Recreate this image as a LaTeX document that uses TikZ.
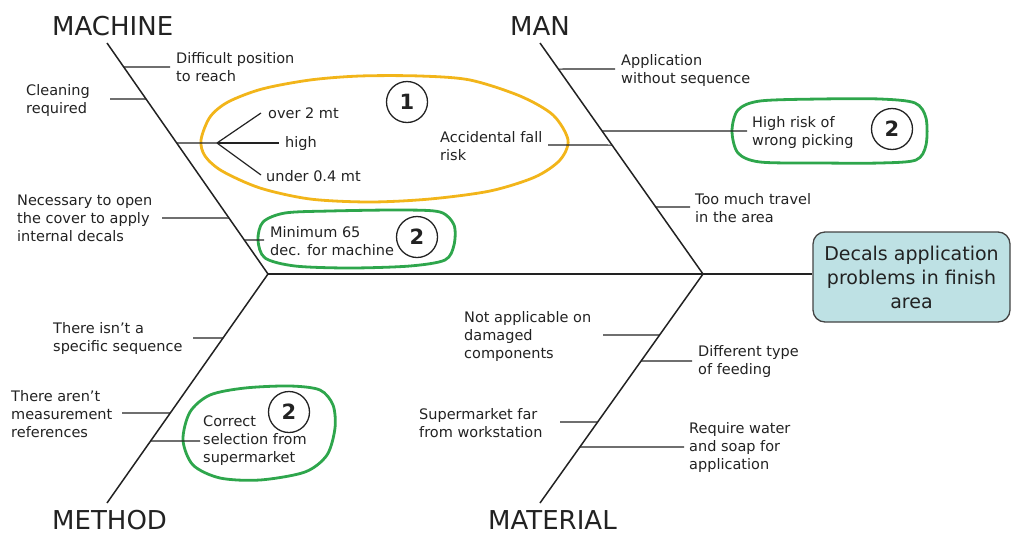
\documentclass[tikz,border=0pt]{standalone}
\usepackage{fontspec}
\setmainfont{DejaVu Sans}
\definecolor{orng}{HTML}{F2B51A}
\definecolor{grn}{HTML}{2EA64C}
\definecolor{boxfill}{HTML}{BEE1E4}
\definecolor{ink}{HTML}{222222}
\begin{document}
\begin{tikzpicture}[x=1pt,y=-1pt,
  bone/.style={draw=ink,line width=1.5pt},
  rib/.style={draw=ink,line width=1.2pt},
  lbl/.style={font=\fontsize{14.5}{18}\selectfont,align=left,inner sep=0pt,anchor=west,text=ink},
  head/.style={font=\fontsize{26}{30}\selectfont,inner sep=0pt,anchor=west,text=ink},
  num/.style={circle,draw=ink,line width=1.3pt,minimum size=41pt,inner sep=0pt,font=\fontsize{21}{21}\selectfont\bfseries,text=ink},
  oloop/.style={draw=orng,line width=2.8pt},
  gloop/.style={draw=grn,line width=2.8pt},
  effect/.style={draw=ink!85,fill=boxfill,line width=1.3pt,rounded corners=12pt,minimum width=197pt,minimum height=90pt,align=center,font=\fontsize{19}{24}\selectfont,text=ink,inner sep=0pt}]
\useasboundingbox (0,0) rectangle (1011,536);

% highlight loops
\draw[oloop] plot[smooth cycle] coordinates {(201,140) (210,117) (228,102) (262,89) (310,80) (360,76) (420,76) (470,80) (520,96) (553,115) (568,140) (560,160) (535,177) (490,191) (430,199) (370,202) (310,199) (260,188) (222,171) (205,156)};
\draw[gloop] plot[smooth cycle] coordinates {(258,240) (263,222) (285,213) (330,211) (400,210) (440,212) (454,225) (454,245) (445,260) (410,266) (350,268) (295,266) (265,258)};
\draw[gloop] plot[smooth cycle] coordinates {(732,131) (738,110) (760,101) (820,99) (880,99) (915,103) (926,118) (926,145) (916,160) (880,163) (820,163) (760,162) (738,153)};
\draw[gloop] plot[smooth cycle] coordinates {(183,440) (190,412) (210,395) (245,388) (290,386) (320,390) (333,405) (335,428) (327,455) (305,472) (260,480) (220,478) (193,465)};

% effect box
\node[effect] (eff) at (911.5,277) {Decals application\\problems in finish\\area};

% bone ends
\coordinate (mcT) at (107,43);
\coordinate (jL) at (268,274);
\coordinate (mtB) at (107,503);
\coordinate (mnT) at (540,43);
\coordinate (jR) at (703,274);
\coordinate (maB) at (540,503);

% spine and bones
\draw[bone] (jL) -- (jL -| eff.west);
\draw[bone] (mcT) -- (jL);
\draw[bone] (jL) -- (mtB);
\draw[bone] (mnT) -- (jR);
\draw[bone] (jR) -- (maB);

% points on bones
\path (mcT) -- (jL) coordinate[pos=0.104] (m1) coordinate[pos=0.242] (m2) coordinate[pos=0.433] (m3) coordinate[pos=0.758] (m4) coordinate[pos=0.853] (m5);
\path (mnT) -- (jR) coordinate[pos=0.113] (a1) coordinate[pos=0.381] (a2) coordinate[pos=0.442] (a3) coordinate[pos=0.710] (a4);
\path (jL) -- (mtB) coordinate[pos=0.279] (d1) coordinate[pos=0.607] (d2) coordinate[pos=0.729] (d3);
\path (jR) -- (maB) coordinate[pos=0.266] (t1) coordinate[pos=0.380] (t2) coordinate[pos=0.646] (t3) coordinate[pos=0.755] (t4);

% rib free ends
\coordinate (rm1) at (170,67);
\coordinate (rm2) at (110,99);
\coordinate (fb) at (217,143);
\coordinate (b1) at (261,113);
\coordinate (b2) at (279,143);
\coordinate (b3) at (261,175);
\coordinate (rm4) at (162,218);
\coordinate (rm5) at (264,240);
\coordinate (ra1) at (615,69);
\coordinate (ra2) at (747,131);
\coordinate (ra3) at (548,145);
\coordinate (ra4) at (690,207);
\coordinate (rd1) at (193,338);
\coordinate (rd2) at (122,413);
\coordinate (rd3) at (200,441);
\coordinate (rt1) at (603,335);
\coordinate (rt2) at (692,361);
\coordinate (rt3) at (560,422);
\coordinate (rt4) at (684,447);

% ribs
\draw[rib] (m1) -- (rm1);
\draw[rib] (rm2) -- (m2);
\draw[rib] (m3) -- (fb);
\draw[rib] (fb) -- (b1);
\draw[rib] (fb) -- (b2);
\draw[rib] (fb) -- (b3);
\draw[rib] (rm4) -- (m4);
\draw[rib] (m5) -- (rm5);
\draw[rib] (a1) -- (ra1);
\draw[rib] (a2) -- (ra2);
\draw[rib] (ra3) -- (a3);
\draw[rib] (a4) -- (ra4);
\draw[rib] (rd1) -- (d1);
\draw[rib] (rd2) -- (d2);
\draw[rib] (d3) -- (rd3);
\draw[rib] (rt1) -- (t1);
\draw[rib] (t2) -- (rt2);
\draw[rib] (rt3) -- (t3);
\draw[rib] (t4) -- (rt4);

% headings
\node[head] (hmc) at (52,26) {MACHINE};
\node[head] (hmn) at (510,26) {MAN};
\node[head] (hmt) at (52,520) {METHOD};
\node[head] (hma) at (488,520) {MATERIAL};

% labels
\node[lbl] (l1) at (176,67) {Difficult position\\to reach};
\node[lbl] (l2) at (26,100) {Cleaning\\required};
\node[lbl] (l3) at (268,113) {over 2 mt};
\node[lbl] (l4) at (285,143) {high};
\node[lbl] (l5) at (266,176) {under 0.4 mt};
\node[lbl] (l6) at (17,218) {Necessary to open\\the cover to apply\\internal decals};
\node[lbl] (l7) at (270,241) {Minimum 65\\dec. for machine};
\node[lbl] (l8) at (621,70) {Application\\without sequence};
\node[lbl] (l9) at (752,132) {High risk of\\wrong picking};
\node[lbl] (l10) at (440,146) {Accidental fall\\risk};
\node[lbl] (l11) at (695,208) {Too much travel\\in the area};
\node[lbl] (l12) at (53,338) {There isn’t a\\specific sequence};
\node[lbl] (l13) at (11,414) {There aren’t\\measurement\\references};
\node[lbl] (l14) at (203,441) {Correct\\selection from\\supermarket};
\node[lbl] (l15) at (464,336) {Not applicable on\\damaged\\components};
\node[lbl] (l16) at (698,361) {Different type\\of feeding};
\node[lbl] (l17) at (419,423) {Supermarket far\\from workstation};
\node[lbl] (l18) at (689,447) {Require water\\and soap for\\application};

% circled numbers
\node[num] (n1) at (407,102) {1};
\node[num] (n2) at (417,237) {2};
\node[num] (n3) at (892,129) {2};
\node[num] (n4) at (289,412) {2};
\end{tikzpicture}
\end{document}
